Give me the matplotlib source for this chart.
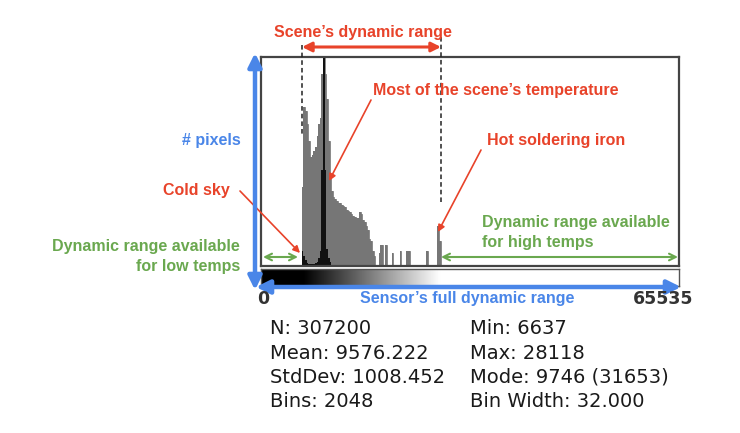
import numpy as np
import matplotlib
matplotlib.use("Agg")
import matplotlib.pyplot as plt

# histogram of a 16-bit thermal frame, displayed ImageJ-style with 256 bins
BIN_W = 256
N_BINS = 256
FULL_RANGE = 65535

# gray = log-scaled histogram (fraction of plot height)
gray_bins = list(range(25, 70)) + [72, 73, 74, 76, 80, 85, 89, 90, 101, 108, 109]
gray_heights = [0.38, 0.76, 0.74, 0.68, 0.60, 0.52, 0.53, 0.55, 0.57, 0.62,
                0.68, 0.71, 0.92, 1.00, 0.92, 0.80, 0.60, 0.42, 0.36, 0.33,
                0.32, 0.31, 0.30, 0.30, 0.29, 0.285, 0.28, 0.27, 0.265, 0.26,
                0.25, 0.24, 0.235, 0.23, 0.23, 0.26, 0.25, 0.22, 0.21, 0.19,
                0.17, 0.13, 0.12, 0.07, 0.05,
                0.06, 0.10, 0.10, 0.10, 0.06, 0.07, 0.07, 0.07, 0.07, 0.19, 0.12]

# black = linear histogram (fraction of the mode count)
black_bins = list(range(25, 43))
black_heights = [0.07, 0.05, 0.03, 0.015, 0.01, 0.01, 0.01, 0.01, 0.015, 0.02,
                 0.04, 0.07, 0.46, 1.00, 0.46, 0.08, 0.04, 0.02]

stat_min = 6637
stat_max = 28118
stats_left = ["N: 307200", "Mean: 9576.222", "StdDev: 1008.452", "Bins: 2048"]
stats_right = ["Min: 6637", "Max: 28118", "Mode: 9746 (31653)", "Bin Width: 32.000"]

RED = "#e8432a"
BLUE = "#4a86e8"
GREEN = "#6aa84f"
ANN_FONT = "Liberation Sans"

W, H = 740, 433


def fig_rect(x0, y0, x1, y1):
    return [x0 / W, 1 - y1 / H, (x1 - x0) / W, (y1 - y0) / H]


fig = plt.figure(figsize=(W / 100, H / 100), dpi=100)

# histogram panel
ax = fig.add_axes(fig_rect(261, 57, 679, 266))
edges = np.arange(N_BINS + 1) * BIN_W
gray_full = np.zeros(N_BINS)
gray_full[gray_bins] = gray_heights
black_full = np.zeros(N_BINS)
black_full[black_bins] = black_heights
ax.stairs(gray_full, edges, fill=True, color="#767676", linewidth=0)
ax.stairs(gray_full, edges, fill=False, color="#767676", linewidth=0.6)
ax.stairs(black_full, edges, fill=True, color="#111111", linewidth=0)
ax.set_xlim(0, N_BINS * BIN_W)
ax.set_ylim(0, 1)
ax.set_xticks([])
ax.set_yticks([])
for sp in ax.spines.values():
    sp.set_color("#444444")
    sp.set_linewidth(1.6)

# LUT bar under the histogram
ax2 = fig.add_axes(fig_rect(261, 269, 679, 286))
xs = np.linspace(0, FULL_RANGE, 1024)
ramp = np.clip((xs - stat_min) / (stat_max - stat_min), 0, 1)
ax2.imshow(ramp[None, :], cmap="gray", aspect="auto",
           extent=[0, FULL_RANGE, 0, 1], vmin=0, vmax=1)
ax2.set_xticks([])
ax2.set_yticks([])
for sp in ax2.spines.values():
    sp.set_color("#555555")
    sp.set_linewidth(1.0)

# overlay in pixel coordinates for the annotations
ov = fig.add_axes([0, 0, 1, 1], zorder=5)
ov.set_xlim(0, W)
ov.set_ylim(H, 0)
ov.axis("off")
ov.patch.set_alpha(0)


def arrow(x1, y1, x2, y2, color, style="-|>", lw=1.2, ms=10):
    ov.annotate("", xy=(x2, y2), xytext=(x1, y1),
                arrowprops=dict(arrowstyle=style, color=color, lw=lw,
                                mutation_scale=ms, shrinkA=0, shrinkB=0),
                annotation_clip=False)


def label(x, y, s, color, ha="left", size=11.5):
    ov.text(x, y, s, color=color, ha=ha, va="center", fontsize=size,
            fontweight="bold", family=ANN_FONT)


# scene's dynamic range
ov.plot([302, 302], [45, 136], color="#222222", lw=1.1, ls=(0, (3, 2)))
ov.plot([441, 441], [37, 205], color="#222222", lw=1.1, ls=(0, (3, 2)))
arrow(302, 47, 441, 47, RED, style="<|-|>", lw=2.2, ms=14)
label(363, 32, "Scene\u2019s dynamic range", RED, ha="center")

label(373, 90, "Most of the scene\u2019s temperature", RED)
arrow(371, 100, 329, 181, RED)

label(487, 140, "Hot soldering iron", RED)
arrow(481, 150, 438, 232, RED)

label(230, 191, "Cold sky", RED, ha="right")
arrow(240, 191, 300, 253, RED)

# axes arrows
arrow(255, 290, 255, 53, BLUE, style="<|-|>", lw=3.2, ms=20)
arrow(256, 287, 681, 287, BLUE, style="<|-|>", lw=3.2, ms=20)
label(241, 140, "# pixels", BLUE, ha="right")
label(467, 298, "Sensor\u2019s full dynamic range", BLUE, ha="center")

# green ranges
arrow(263, 257, 298, 257, GREEN, style="<->", lw=1.5, ms=12)
arrow(441, 257, 678, 257, GREEN, style="<->", lw=1.5, ms=12)
label(240, 247, "Dynamic range available", GREEN, ha="right")
label(240, 266, "for low temps", GREEN, ha="right")
label(482, 223, "Dynamic range available", GREEN)
label(482, 243, "for high temps", GREEN)

# ImageJ axis labels and statistics
ov.text(257, 299, "0", ha="left", va="center", fontsize=12.5,
        fontweight="bold", color="#333333", family="DejaVu Sans")
ov.text(693, 299, str(FULL_RANGE), ha="right", va="center", fontsize=12.5,
        fontweight="bold", color="#333333", family="DejaVu Sans")
for i, (sl, sr) in enumerate(zip(stats_left, stats_right)):
    yy = 329 + i * 24.2
    ov.text(270, yy, sl, ha="left", va="center", fontsize=14,
            color="#1a1a1a", family="DejaVu Sans")
    ov.text(470, yy, sr, ha="left", va="center", fontsize=14,
            color="#1a1a1a", family="DejaVu Sans")

fig.savefig("out.png", dpi=100)
